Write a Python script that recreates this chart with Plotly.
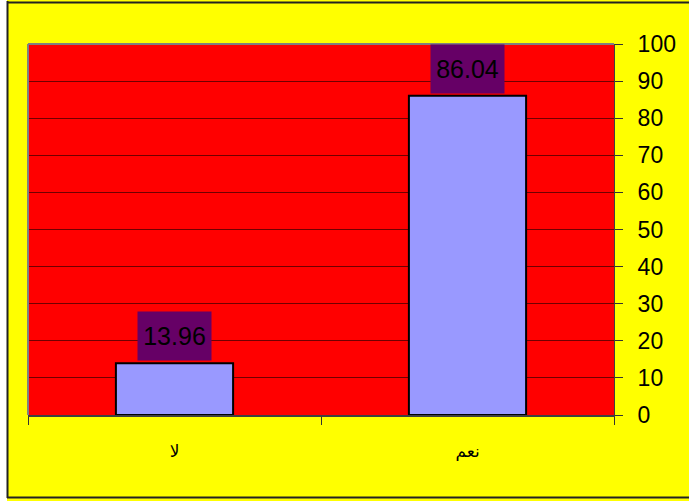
import plotly.graph_objects as go

categories = ["لا", "نعم"]
values = [13.96, 86.04]
value_labels = ["13.96", "86.04"]
y_ticks = [0, 10, 20, 30, 40, 50, 60, 70, 80, 90, 100]

W, H = 689, 501
L, R, T, B = 28, 75, 44, 86
pw, ph = W - L - R, H - T - B

def px_x(p):
    return (p - L) / pw

def px_y(p):
    return (H - B - p) / ph

fig = go.Figure()
fig.add_trace(go.Bar(
    x=categories, y=values,
    marker=dict(color="#9999FF", line=dict(color="#000000", width=2)),
    hoverinfo="skip",
))

for c, v, t in zip(categories, values, value_labels):
    fig.add_annotation(
        x=c, y=v, xref="x", yref="y", text=t, showarrow=False,
        yanchor="bottom", yshift=2,
        font=dict(family="Arial, Liberation Sans, sans-serif", size=25, color="#000000"),
        bgcolor="#660066", borderpad=5, width=63, height=38,
    )

frame = dict(color="#222222", width=2)
shapes = [
    # white strip on the left outside the frame
    dict(type="rect", xref="paper", yref="paper", layer="above",
         x0=px_x(-2), x1=px_x(7), y0=px_y(510), y1=px_y(-10),
         fillcolor="#FFFFFF", line=dict(width=0)),
    # outer frame border: left, top, bottom
    dict(type="line", xref="paper", yref="paper", layer="above",
         x0=px_x(7.5), x1=px_x(7.5), y0=px_y(498), y1=px_y(1), line=frame),
    dict(type="line", xref="paper", yref="paper", layer="above",
         x0=px_x(7), x1=px_x(695), y0=px_y(2.5), y1=px_y(2.5), line=frame),
    dict(type="line", xref="paper", yref="paper", layer="above",
         x0=px_x(7), x1=px_x(695), y0=px_y(497.5), y1=px_y(497.5), line=frame),
    # plot-area top and left gray border
    dict(type="line", xref="paper", yref="paper", x0=0, x1=1, y0=1, y1=1,
         line=dict(color="#808080", width=2)),
    dict(type="line", xref="paper", yref="paper", x0=0, x1=0, y0=0, y1=1,
         line=dict(color="#808080", width=2)),
]

fig.update_layout(
    width=W, height=H,
    margin=dict(l=L, r=R, t=T, b=B, pad=0),
    paper_bgcolor="#FFFF00",
    plot_bgcolor="#FF0000",
    bargap=0.6,
    showlegend=False,
    shapes=shapes,
    font=dict(family="Arial, Liberation Sans, DejaVu Sans, sans-serif", color="#000000"),
    xaxis=dict(
        type="category", tickson="boundaries", ticks="outside", ticklen=8,
        tickcolor="#333333", tickwidth=1,
        showline=True, linecolor="#404040", linewidth=2,
        showgrid=False, zeroline=False,
        tickfont=dict(size=17, family="Arial, DejaVu Sans, sans-serif"),
        ticklabelstandoff=20,
    ),
    yaxis=dict(
        side="right", range=[0, 100], tickvals=y_ticks,
        ticks="outside", ticklen=8, tickcolor="#333333", tickwidth=1,
        showline=True, linecolor="#404040", linewidth=1,
        showgrid=True, gridcolor="#700000", gridwidth=1,
        zeroline=False,
        tickfont=dict(size=23, family="Arial, Liberation Sans, sans-serif"),
        ticklabelstandoff=10,
    ),
)

fig.write_html(
    "out.html",
    config={"displayModeBar": False},
    post_script="document.body.style.margin='0';document.body.style.overflow='hidden';",
)
